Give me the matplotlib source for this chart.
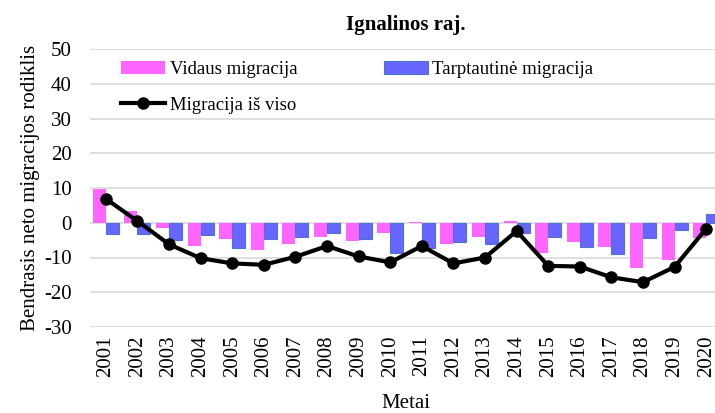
import matplotlib.pyplot as plt
import numpy as np

plt.rcParams['font.family'] = ['Liberation Serif', 'DejaVu Serif']
plt.rcParams['axes.unicode_minus'] = False

years = [str(y) for y in range(2001, 2021)]
vidaus = [9.7, 3.3, -1.4, -6.7, -4.8, -7.8, -6.2, -4.1, -5.2, -2.9,
          0.3, -6.2, -4.0, 0.4, -8.6, -5.5, -6.9, -13.0, -10.8, -4.3]
tarpt = [-3.3, -3.1, -5.0, -3.6, -7.3, -4.6, -4.0, -2.9, -4.8, -8.6,
         -7.2, -5.5, -6.2, -2.9, -4.0, -7.1, -9.0, -4.3, -2.1, 2.6]
is_viso = [6.9, 0.5, -6.2, -10.2, -11.7, -12.1, -9.8, -6.7, -9.7, -11.4,
           -6.7, -11.7, -10.0, -2.4, -12.4, -12.6, -15.7, -17.1, -12.7, -1.7]

fig = plt.figure(figsize=(7.15, 4.13), dpi=100)
ax = fig.add_axes([90 / 715, 1 - 327 / 413, 632 / 715, 278 / 413])

x = np.arange(len(years))
w = 0.41
b1 = ax.bar(x - w / 2, vidaus, w, color='#FF66FF', label='Vidaus migracija', zorder=2)
b2 = ax.bar(x + w / 2, tarpt, w, color='#6666FF', edgecolor='#4F72D0', linewidth=0.8,
            label='Tarptautinė migracija', zorder=2)
l1, = ax.plot(x, is_viso, color='black', lw=3, marker='o', ms=8,
              label='Migracija iš viso', zorder=3)

ax.set_xlim(-0.5, len(years) - 0.5)
ax.set_ylim(-30, 50)
ax.set_yticks(range(-30, 51, 10))
ax.set_xticks(x)
ax.set_xticklabels(years, rotation=90)
ax.tick_params(length=0, labelsize=15)
ax.tick_params(axis='y', pad=13)
ax.tick_params(axis='x', pad=6)
ax.grid(axis='y', color='#D9D9D9', lw=1.2, zorder=0)
ax.set_axisbelow(True)
for s in ax.spines.values():
    s.set_visible(False)

ax.set_title('Ignalinos raj.', fontsize=15, fontweight='bold', pad=14)
ax.set_ylabel('Bendrasis neto migracijos rodiklis', fontsize=15, labelpad=3)
ax.set_xlabel('Metai', fontsize=15, labelpad=12)

# column-major fill: first column gets b1 and l1
ax.legend(handles=[b1, l1, b2], loc='upper left', ncol=2, frameon=False, fontsize=13.5,
          bbox_to_anchor=(0.037, 0.985), columnspacing=4.6, handlelength=2.35,
          handletextpad=0.25, borderaxespad=0, labelspacing=1.0)

fig.savefig('out.png', dpi=100)
